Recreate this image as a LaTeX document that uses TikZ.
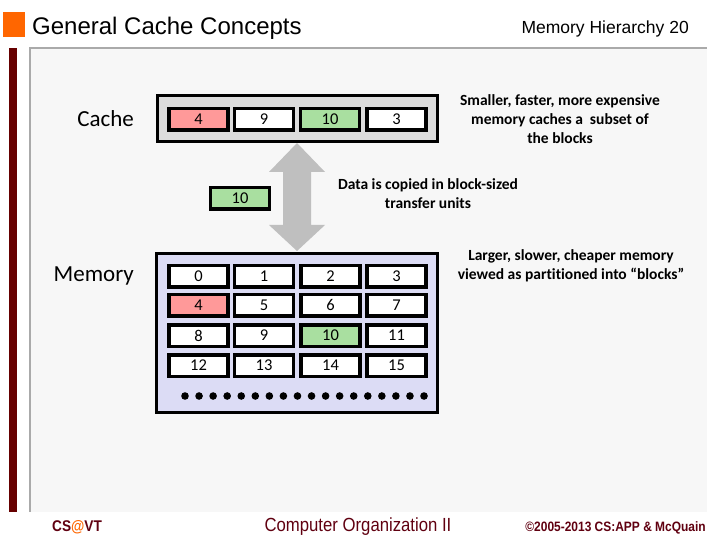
\documentclass[tikz,border=0pt]{standalone}
\usepackage{fontspec}
\setmainfont[Ligatures=NoCommon]{Carlito}
\newfontfamily\arial{Liberation Sans}
\newfontfamily\arialn[FakeStretch=0.88]{Liberation Sans}
\usetikzlibrary{positioning}
\definecolor{barred}{RGB}{102,0,0}
\definecolor{foot}{RGB}{96,0,16}
\definecolor{orng}{RGB}{255,102,0}
\definecolor{panel}{RGB}{247,247,247}
\definecolor{panelline}{RGB}{170,170,170}
\definecolor{cachefill}{RGB}{220,220,220}
\definecolor{memfill}{RGB}{220,220,245}
\definecolor{pinkc}{RGB}{255,153,153}
\definecolor{greenc}{RGB}{169,223,160}
\definecolor{arrowg}{RGB}{191,191,191}
\tikzset{
  cell/.style={draw=black, line width=3.5pt, fill=white, minimum width=59pt, minimum height=21.5pt, inner sep=0pt, font=\fontsize{16.5}{16.5}\selectfont},
  outerbox/.style={draw=black, line width=3.5pt},
  side/.style={font=\fontsize{15.5}{19}\selectfont\bfseries, align=center, inner sep=0pt},
  biglabel/.style={font=\fontsize{23}{23}\selectfont, anchor=east, inner sep=0pt},
}
\begin{document}
\begin{tikzpicture}[x=1pt,y=-1pt]
\useasboundingbox (0,0) rectangle (720,540);
% header
\fill[orng] (3,12) rectangle (25,37);
\node[anchor=base west, inner sep=0pt, font=\arial\fontsize{24}{24}\selectfont] (title) at (32,35) {General Cache Concepts};
\node[anchor=base east, inner sep=0pt, font=\arial\fontsize{17.5}{17.5}\selectfont] (pg) at (689,34) {Memory Hierarchy 20};
% panel
\fill[panel] (30,48) rectangle (707,512);
\draw[panelline, line width=2pt] (30,512) -- (30,48) -- (707,48);
\fill[barred] (9,48) rectangle (17,512);
% cache
\node[outerbox, fill=cachefill, minimum width=280pt, minimum height=46pt, inner sep=0pt] (cachebox) at (297.5,118.5) {};
\node[cell, fill=pinkc] (c1) at (198.5,119.5) {4};
\node[cell] (c2) at (264,119.5) {9};
\node[cell, fill=greenc] (c3) at (330,119.5) {10};
\node[cell] (c4) at (396.5,119.5) {3};
\node[biglabel] (cachelbl) at (134,119) {Cache};
% transfer block
\node[cell, fill=greenc] (t10) at (240,198.5) {10};
% memory
\node[outerbox, fill=memfill, minimum width=281pt, minimum height=159pt, inner sep=0pt] (membox) at (297,333) {};
\foreach \r/\y in {0/276,1/305,2/335.5,3/365.5}{
  \foreach \c/\x in {0/198.5,1/264,2/330.5,3/396.5}{
    \pgfmathtruncatemacro{\n}{4*\r+\c}
    \ifnum\n=4
      \node[cell, fill=pinkc] (m\n) at (\x,\y) {\n};
    \else\ifnum\n=10
      \node[cell, fill=greenc] (m\n) at (\x,\y) {\n};
    \else
      \node[cell] (m\n) at (\x,\y) {\n};
    \fi\fi
  }
}
\foreach \i in {0,...,17}{
  \fill (185+\i*14.06,396) circle (3.8pt);
}
\node[biglabel] (memlbl) at (134,276) {Memory};
% double arrow
\coordinate (atop) at (297,143);
\coordinate (abot) at (297,251);
\fill[arrowg] (atop) -- (325,172) -- (311,172) -- (311,225) -- (325,225) -- (abot) -- (269,225) -- (283,225) -- (283,172) -- (269,172) -- cycle;
% side texts
\node[side] (t1) at (560,119) {Smaller, faster, more expensive\\memory caches a\ \ subset of\\the blocks};
\node[side] (t2) at (428,193.5) {Data is copied in block-sized\\transfer units};
\node[side] (t3) at (571,265.5) {Larger, slower, cheaper memory\\viewed as partitioned into “blocks”};
% footer
\node[anchor=base west, inner sep=0pt, font=\arialn\bfseries\fontsize{15.5}{15.5}\selectfont, text=foot] (f1) at (52,531) {CS\textcolor{orng}{@}VT};
\node[anchor=base, inner sep=0pt, font=\arialn\fontsize{19}{19}\selectfont, text=foot] (f2) at (358,531) {Computer Organization II};
\node[anchor=base east, inner sep=0pt, font=\arialn\bfseries\fontsize{13.6}{13.6}\selectfont, text=foot] (f3) at (706,531) {©2005-2013 CS:APP \& McQuain};
\end{tikzpicture}
\end{document}
